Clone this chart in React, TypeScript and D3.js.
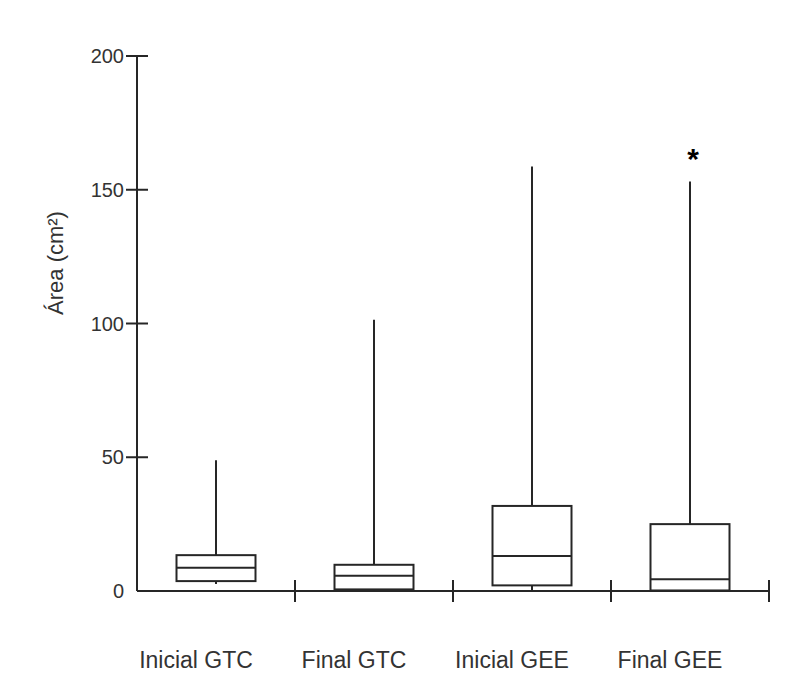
import React from 'react';
import * as d3 from 'd3';

// groups and their five-number summaries
const categories = ['Inicial GTC', 'Final GTC', 'Inicial GEE', 'Final GEE'];
const mins = [2.6, 0.3, 0.3, 0.0];
const q1s = [3.7, 0.6, 2.1, 0.2];
const medians = [8.7, 5.7, 13.1, 4.4];
const q3s = [13.4, 9.8, 31.8, 25.0];
const maxs = [48.9, 101.4, 158.7, 153.1];
const marked = ['Final GEE'];
const yTicks = [0, 50, 100, 150, 200];
const yLabel = 'Área (cm²)';

const W = 805;
const H = 675;
const margin = { left: 137, right: 36, top: 56, bottom: 84 };
const ink = '#262626';
const font = '"Liberation Sans", Arial, sans-serif';

export default function App() {
    const x = d3.scaleBand()
        .domain(categories)
        .range([margin.left, W - margin.right])
        .paddingInner(0)
        .paddingOuter(0);
    const y = d3.scaleLinear()
        .domain([0, 200])
        .range([H - margin.bottom, margin.top]);

    const boxW = x.bandwidth() * 0.5;
    const y0 = y(0);

    const boxes = categories.map((c, i) => ({
        c,
        cx: x(c)! + x.bandwidth() / 2,
        min: mins[i],
        q1: q1s[i],
        med: medians[i],
        q3: q3s[i],
        max: maxs[i]
    }));

    return (
        <svg width={W} height={H} style={{ position: 'absolute', left: 0, top: 0, background: '#fff' }}>
            {/* y axis */}
            <line x1={margin.left} x2={margin.left} y1={y(200)} y2={y0} stroke={ink} strokeWidth={2} />
            {yTicks.map(t => (
                <g key={t}>
                    {t > 0 && (
                        <line x1={margin.left - 11} x2={margin.left + 11} y1={y(t)} y2={y(t)} stroke={ink} strokeWidth={2} />
                    )}
                    <text x={margin.left - 13} y={y(t)} dy="0.36em" textAnchor="end"
                        fontFamily={font} fontSize={20} fill="#333">{t}</text>
                </g>
            ))}
            <text transform={`translate(63,263) rotate(-90)`} textAnchor="middle"
                fontFamily={font} fontSize={22} fill="#333">{yLabel}</text>

            {/* x axis */}
            <line x1={margin.left} x2={W - margin.right} y1={y0} y2={y0} stroke={ink} strokeWidth={2} />
            {categories.map(c => (
                <line key={c} x1={x(c)! + x.bandwidth()} x2={x(c)! + x.bandwidth()} y1={y0 - 11} y2={y0 + 11}
                    stroke={ink} strokeWidth={2} />
            ))}
            {categories.map(c => (
                <text key={c} x={x(c)! + x.bandwidth() / 2 - 20} y={668} textAnchor="middle"
                    fontFamily={font} fontSize={23} fill="#333">{c}</text>
            ))}

            {/* boxes */}
            {boxes.map(b => (
                <g key={b.c} stroke={ink} strokeWidth={2} fill="none">
                    <line x1={b.cx} x2={b.cx} y1={y(b.q3)} y2={y(b.max)} />
                    <line x1={b.cx} x2={b.cx} y1={y(b.q1)} y2={y(b.min)} />
                    <rect x={b.cx - boxW / 2} y={y(b.q3)} width={boxW} height={y(b.q1) - y(b.q3)} />
                    <line x1={b.cx - boxW / 2} x2={b.cx + boxW / 2} y1={y(b.med)} y2={y(b.med)} />
                </g>
            ))}
            {boxes.filter(b => marked.includes(b.c)).map(b => (
                <text key={b.c} x={b.cx + 3} y={y(b.max) - 12} textAnchor="middle"
                    fontFamily={font} fontSize={30} fontWeight="bold" fill="#000">*</text>
            ))}
        </svg>
    );
}
